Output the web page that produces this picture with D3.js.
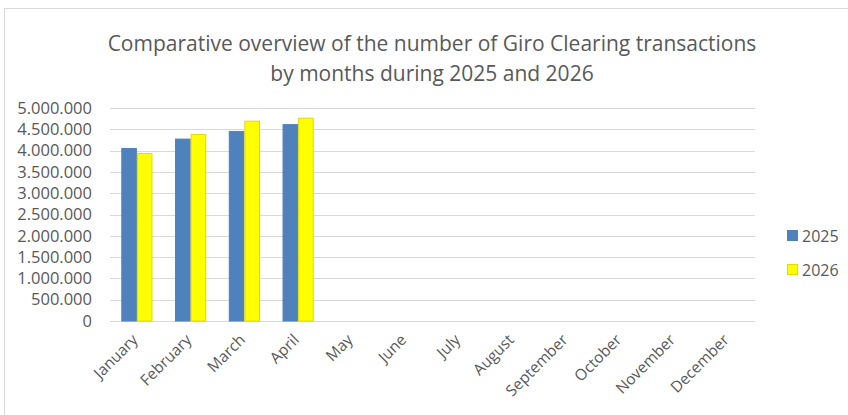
<!DOCTYPE html>
<html>
<head>
<meta charset="utf-8">
<script src="https://cdn.jsdelivr.net/npm/d3@7"></script>
<style>
  body { margin: 0; background: #fff; }
  text { font-family: "Open Sans", sans-serif; fill: #595959; }
</style>
</head>
<body>
<div id="chart"></div>
<script>
var months = ["January", "February", "March", "April", "May", "June", "July",
    "August", "September", "October", "November", "December"];
var years = ["2025", "2026"];
var values2025 = [4050000, 4270000, 4450000, 4610000, null, null, null, null, null, null, null, null];
var values2026 = [3930000, 4380000, 4690000, 4760000, null, null, null, null, null, null, null, null];
var yTicks = [0, 500000, 1000000, 1500000, 2000000, 2500000, 3000000, 3500000, 4000000, 4500000, 5000000];
var colors = ["#4f81bd", "#ffff00"];
var strokes = ["#4f81bd", "#e6d800"];

var width = 848, height = 415;
var margin = { left: 110, right: 93, top: 108, bottom: 94 };

var svg = d3.select("#chart").append("svg")
    .attr("width", width)
    .attr("height", height);

// chart border
svg.append("rect")
    .attr("x", 4.5).attr("y", 8.5)
    .attr("width", width + 10).attr("height", height + 10)
    .attr("fill", "none")
    .attr("stroke", "#d9d9d9");

var title = svg.append("text")
    .attr("text-anchor", "middle")
    .style("font-size", "21px");
title.append("tspan").attr("x", 432).attr("y", 51)
    .text("Comparative overview of the number of Giro Clearing transactions");
title.append("tspan").attr("x", 432).attr("y", 81)
    .text("by months during 2025 and 2026");

var x = d3.scaleBand()
    .domain(months)
    .range([margin.left, width - margin.right])
    .paddingInner(0.42)
    .paddingOuter(0.21);

var xSub = d3.scaleBand()
    .domain(years)
    .range([0, x.bandwidth()]);

var y = d3.scaleLinear()
    .domain([0, 5000000])
    .range([height - margin.bottom, margin.top]);

var fmt = function (d) {
    return d3.format(",")(d).replace(/,/g, ".");
};

// gridlines
svg.append("g")
    .selectAll("line")
    .data(yTicks)
    .join("line")
    .attr("x1", margin.left)
    .attr("x2", width - margin.right)
    .attr("y1", function (d) { return Math.round(y(d)) + 0.5; })
    .attr("y2", function (d) { return Math.round(y(d)) + 0.5; })
    .attr("stroke", "#d9d9d9")
    .attr("stroke-width", 1.2);

var yAxis = svg.append("g")
    .attr("transform", "translate(" + (margin.left - 6) + ",0)")
    .call(d3.axisLeft(y).tickValues(yTicks).tickFormat(fmt).tickSize(0).tickPadding(12));
yAxis.select(".domain").remove();
yAxis.selectAll("text").style("font-size", "16.5px").style("fill", "#595959");

var series = [values2025, values2026];
series.forEach(function (vals, si) {
    svg.append("g")
        .selectAll("rect")
        .data(months.map(function (m, i) { return { month: m, value: vals[i] }; })
            .filter(function (d) { return d.value != null; }))
        .join("rect")
        .attr("x", function (d) { return x(d.month) + xSub(years[si]) + 0.5; })
        .attr("y", function (d) { return y(d.value); })
        .attr("width", xSub.bandwidth() - 1)
        .attr("height", function (d) { return y(0) - y(d.value); })
        .attr("fill", colors[si])
        .attr("stroke", strokes[si])
        .attr("stroke-width", 1);
});

var xAxis = svg.append("g")
    .attr("transform", "translate(0," + (height - margin.bottom) + ")")
    .call(d3.axisBottom(x).tickSize(0));
xAxis.select(".domain").remove();
xAxis.selectAll("text")
    .style("font-size", "15.5px")
    .style("fill", "#595959")
    .attr("text-anchor", "end")
    .attr("x", 0)
    .attr("y", 0)
    .attr("dy", "0.35em")
    .attr("transform", "translate(-2,16) rotate(-45)");

var legend = svg.append("g")
    .selectAll("g")
    .data(years)
    .join("g")
    .attr("transform", function (d, i) { return "translate(787," + (230 + i * 34) + ")"; });
legend.append("rect")
    .attr("x", 0.5).attr("y", 0.5)
    .attr("width", 10).attr("height", 10)
    .attr("fill", function (d, i) { return colors[i]; })
    .attr("stroke", function (d, i) { return strokes[i]; });
legend.append("text")
    .attr("x", 15)
    .attr("y", 11.5)
    .style("font-size", "16px")
    .text(function (d) { return d; });
</script>
</body>
</html>
